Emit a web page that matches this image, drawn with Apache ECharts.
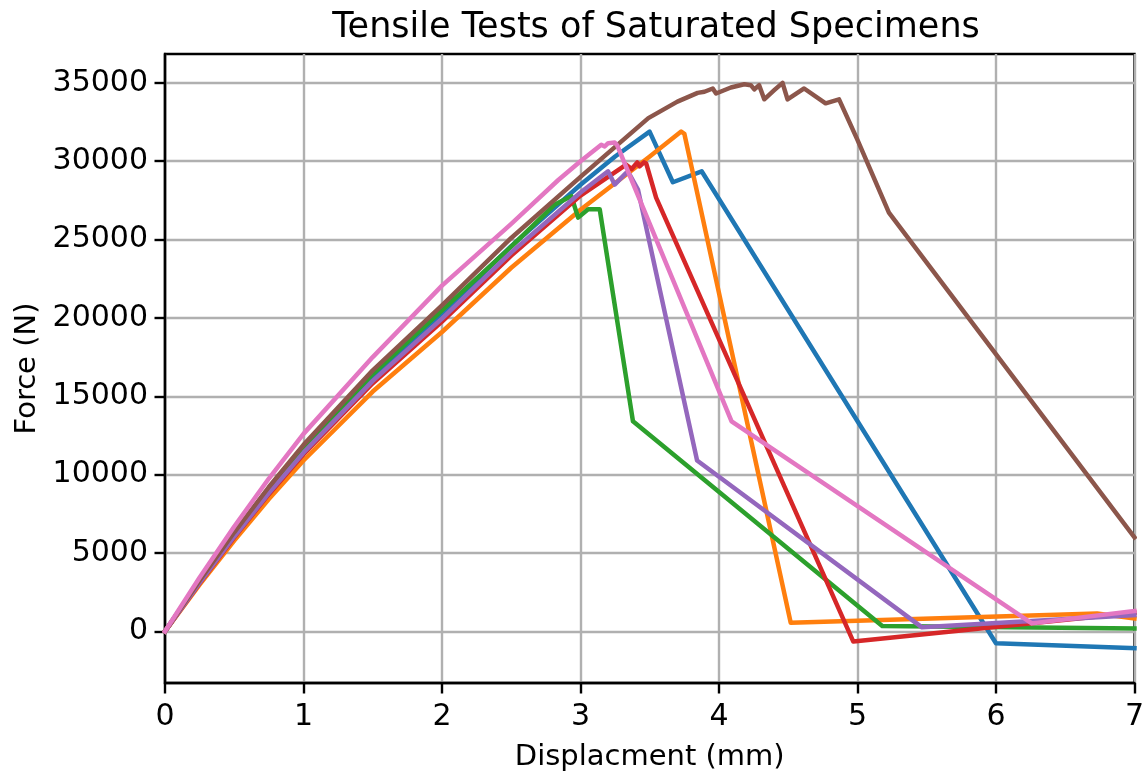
<!DOCTYPE html>
<html>
<head>
<meta charset="utf-8">
<script src="https://cdn.jsdelivr.net/npm/echarts@6/dist/echarts.min.js"></script>
<style>html,body{margin:0;padding:0;background:#fff;}#chart{width:1147px;height:777px;}</style>
</head>
<body>
<div id="chart"></div>
<script>
// Specimen names (no legend in the original; tab10 colour order)
const specimenNames = ['S1', 'S2', 'S3', 'S4', 'S5', 'S6', 'S7'];
// Displacement (mm) and force (N) per specimen
const s1Disp  = [0, 0.25, 0.5, 0.75, 1, 1.5, 2, 2.5, 3, 3.25, 3.499, 3.667, 3.875, 6.0, 7];
const s1Force = [0, 3190, 6210, 9060, 11700, 16290, 20270, 24580, 28500, 30300, 31890, 28657, 29354, -760, -1078];

const s2Disp  = [0, 0.25, 0.5, 0.75, 1, 1.5, 2, 2.5, 3, 3.5, 3.727, 3.75, 4.518, 6.73, 7];
const s2Force = [0, 2980, 5790, 8440, 10900, 15300, 19100, 23200, 26900, 30300, 31890, 31750, 551, 1140, 820];

const s3Disp  = [0, 0.25, 0.5, 0.75, 1, 1.5, 2, 2.5, 2.815, 2.934, 2.983, 3.055, 3.139, 3.379, 5.179, 7];
const s3Force = [0, 3210, 6240, 9090, 11750, 16420, 20480, 24550, 27240, 27770, 26400, 26930, 26930, 13400, 342, 190];

const s4Disp  = [0, 0.25, 0.5, 0.75, 1, 1.5, 2, 2.5, 3, 3.33, 3.37, 3.41, 3.427, 3.458, 3.475, 3.546, 4.97, 7];
const s4Force = [0, 3080, 6000, 8750, 11300, 15830, 19760, 23980, 27800, 29780, 29500, 29925, 29670, 29925, 29850, 27670, -653, 1190];

const s5Disp  = [0, 0.25, 0.5, 0.75, 1, 1.5, 2, 2.5, 3, 3.199, 3.247, 3.33, 3.355, 3.415, 3.842, 5.466, 7];
const s5Force = [0, 3110, 6050, 8820, 11400, 15980, 19950, 24180, 28000, 29354, 28510, 29250, 29145, 28190, 10905, 254, 1040];

const s6Disp  = [0, 0.25, 0.5, 0.75, 1, 1.5, 2, 2.5, 3, 3.49, 3.7, 3.846, 3.895, 3.955, 3.979, 4.086, 4.183, 4.23, 4.255, 4.29, 4.327, 4.399, 4.459, 4.495, 4.615, 4.77, 4.867, 5.0, 5.227, 7];
const s6Force = [0, 3250, 6320, 9210, 11900, 16650, 20800, 25100, 29000, 32750, 33800, 34360, 34430, 34640, 34320, 34700, 34910, 34850, 34580, 34850, 33950, 34530, 35000, 33945, 34640, 33690, 33945, 31360, 26720, 6000];

const s7Disp  = [0, 0.25, 0.5, 0.75, 1, 1.5, 2, 2.5, 2.84, 3, 3.15, 3.175, 3.2, 3.247, 3.266, 4.091, 6.259, 7];
const s7Force = [0, 3440, 6690, 9750, 12600, 17500, 22060, 26000, 28800, 30000, 31050, 30940, 31150, 31190, 31000, 13400, 507, 1290];

const xTicks = [0, 1, 2, 3, 4, 5, 6, 7];
const yTicks = [0, 5000, 10000, 15000, 20000, 25000, 30000, 35000];
const colors = ['#1f77b4', '#ff7f0e', '#2ca02c', '#d62728', '#9467bd', '#8c564b', '#e377c2'];

const allDisp = [s1Disp, s2Disp, s3Disp, s4Disp, s5Disp, s6Disp, s7Disp];
const allForce = [s1Force, s2Force, s3Force, s4Force, s5Force, s6Force, s7Force];

const FONT = 'DejaVu Sans';
const chart = echarts.init(document.getElementById('chart'), null, {renderer: 'canvas'});

const series = specimenNames.map((name, i) => ({
  name: name,
  type: 'line',
  data: allDisp[i].map((x, k) => [x, allForce[i][k]]),
  showSymbol: false,
  symbol: 'none',
  smooth: false,
  clip: true,
  lineStyle: {color: colors[i], width: 4.5, cap: 'square', join: 'round'},
  itemStyle: {color: colors[i]},
  z: 3 + i,
  animation: false
}));

chart.setOption({
  animation: false,
  backgroundColor: '#ffffff',
  title: {
    text: 'Tensile Tests of Saturated Specimens',
    left: 651,
    top: 5,
    textAlign: 'center',
    textStyle: {fontFamily: FONT, fontSize: 35, fontWeight: 'normal', color: '#000'}
  },
  grid: {
    left: 165, right: 9, top: 54, bottom: 90,
    show: true, borderColor: '#000', borderWidth: 2.4, backgroundColor: 'transparent',
    containLabel: false
  },
  xAxis: {
    type: 'value',
    min: 0, max: 7, interval: 1,
    name: 'Displacment (mm)',
    nameLocation: 'middle',
    nameGap: 60,
    nameTextStyle: {fontFamily: FONT, fontSize: 29, color: '#000'},
    axisLine: {show: true, onZero: false, lineStyle: {color: '#000', width: 2.4}},
    axisTick: {show: true, length: 10.5, lineStyle: {color: '#000', width: 2.4}},
    axisLabel: {fontFamily: FONT, fontSize: 30, color: '#000', margin: 19,
      formatter: v => (xTicks.indexOf(v) >= 0 ? String(v) : '')},
    splitLine: {show: true, lineStyle: {color: '#b0b0b0', width: 2.4}}
  },
  yAxis: {
    type: 'value',
    min: -3297, max: 36840,
    splitNumber: 8,
    name: 'Force (N)',
    nameLocation: 'middle',
    nameGap: 117,
    nameRotate: 90,
    nameTextStyle: {fontFamily: FONT, fontSize: 29, color: '#000'},
    axisLine: {show: true, onZero: false, lineStyle: {color: '#000', width: 2.4}},
    axisTick: {show: true, length: 10.5, lineStyle: {color: '#000', width: 2.4}, customValues: yTicks},
    axisLabel: {fontFamily: FONT, fontSize: 30, color: '#000', margin: 17, customValues: yTicks,
      formatter: v => (yTicks.indexOf(v) >= 0 ? String(v) : '')},
    splitLine: {show: true, lineStyle: {color: '#b0b0b0', width: 2.4}}
  },
  series: series
});
</script>
</body>
</html>
